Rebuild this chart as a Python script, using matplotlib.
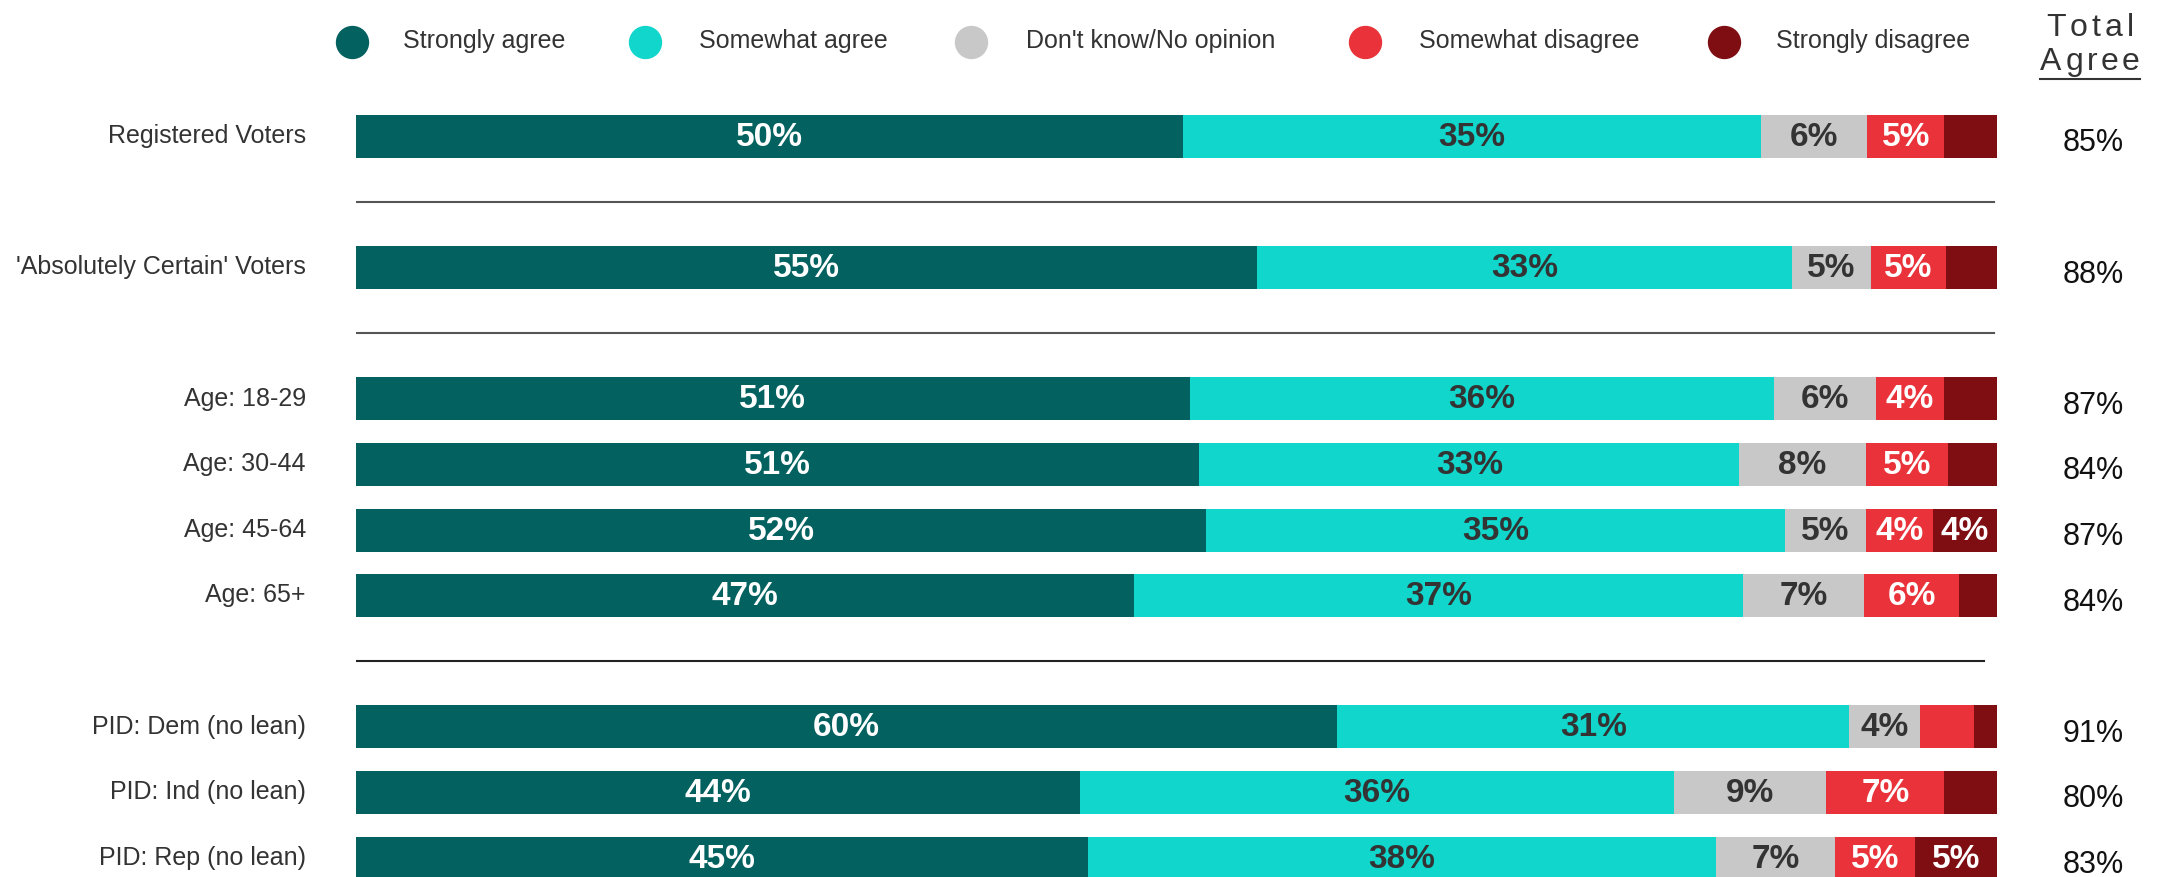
import numpy as np
import matplotlib
matplotlib.use('Agg')
import matplotlib.pyplot as plt

plt.rcParams['font.family'] = ['Liberation Sans', 'DejaVu Sans']

# data
groups = ['Registered Voters', "'Absolutely Certain' Voters", 'Age: 18-29', 'Age: 30-44',
          'Age: 45-64', 'Age: 65+', 'PID: Dem (no lean)', 'PID: Ind (no lean)', 'PID: Rep (no lean)']
answers = ['Strongly agree', 'Somewhat agree', "Don't know/No opinion", 'Somewhat disagree', 'Strongly disagree']
strongly_agree = [50.4, 54.9, 50.8, 51.4, 51.8, 47.4, 59.8, 44.1, 44.6]
somewhat_agree = [35.2, 32.6, 35.6, 32.9, 35.3, 37.1, 31.2, 36.2, 38.3]
dont_know = [6.5, 4.8, 6.2, 7.7, 4.9, 7.4, 4.3, 9.3, 7.2]
somewhat_disagree = [4.7, 4.6, 4.2, 5.0, 4.1, 5.8, 3.3, 7.2, 4.9]
strongly_disagree = [3.2, 3.1, 3.2, 3.0, 3.9, 2.3, 1.4, 3.2, 5.0]
total_agree = [85, 88, 87, 84, 87, 84, 91, 80, 83]

# layout (row slots, gaps between groups)
rows = [0, 2, 4, 5, 6, 7, 9, 10, 11]
separators = [(1, 99.8, '#555555'), (3, 99.8, '#555555'), (8, 99.2, '#222222')]

colours = ['#03615f', '#10d6cc', '#c8c8c8', '#e93239', '#7f0e12']
text_colours = ['white', '#333333', '#333333', 'white', 'white']

W, H = 2162, 878
fig = plt.figure(figsize=(W / 100, H / 100), dpi=100)
ax = fig.add_axes([356 / W, 0, 1641 / W, 1])
ax.set_xlim(0, 100)
ax.set_ylim(11.288, -2.096)

series = [strongly_agree, somewhat_agree, dont_know, somewhat_disagree, strongly_disagree]
left = np.zeros(len(groups))
for vals, col, tcol in zip(series, colours, text_colours):
    vals = np.array(vals)
    ax.barh(rows, vals, left=left, height=0.655, color=col, linewidth=0)
    for y, l, v in zip(rows, left, vals):
        if round(v) >= 4:
            ax.text(l + v / 2, y, f'{round(v)}%', ha='center', va='center',
                    fontsize=24, fontweight='bold', color=tcol)
    left += vals

# group separators
for y, x_end, c in separators:
    ax.plot([0, x_end], [y, y], color=c, linewidth=1.5)

# group labels and total agree column
for y, g, t in zip(rows, groups, total_agree):
    ax.text(-3.05, y - 0.02, g, ha='right', va='center', fontsize=18,
            color='#333333', clip_on=False)
    ax.text(105.85, y + 0.09, f'{t}%', ha='center', va='center', fontsize=22,
            color='#111111', clip_on=False)

ax.set_xticks([])
ax.set_yticks([])
for s in ax.spines.values():
    s.set_visible(False)

# legend
circle_x = [352, 645, 971, 1365, 1724]
label_x = [403, 699, 1026, 1419, 1776]
for cx, lx, col, lab in zip(circle_x, label_x, colours, answers):
    fig.add_artist(plt.Line2D([cx / W], [1 - 43 / H], marker='o', markersize=23,
                              color=col, linestyle='none', transform=fig.transFigure))
    fig.text(lx / W, 1 - 41 / H, lab, fontsize=18, color='#333333', va='center', ha='left')


# letter-spaced header "Total Agree"
def spaced_text(cx, base_y, s, size, tracking):
    renderer = fig.canvas.get_renderer()
    widths = []
    for ch in s:
        t = fig.text(0, 0, ch, fontsize=size)
        widths.append(t.get_window_extent(renderer).width)
        t.remove()
    total = sum(widths) + tracking * (len(s) - 1)
    x = cx - total / 2
    for ch, w in zip(s, widths):
        fig.text(x / W, 1 - base_y / H, ch, fontsize=size, color='#333333',
                 va='baseline', ha='left')
        x += w + tracking
    return cx - total / 2, cx + total / 2


spaced_text(2090, 36, 'Total', 23, 4)
x0, x1 = spaced_text(2090, 70, 'Agree', 23, 3.5)
fig.add_artist(plt.Line2D([x0 / W, x1 / W], [1 - 80 / H, 1 - 80 / H], color='#333333',
                          linewidth=1.5, transform=fig.transFigure))

plt.savefig('out.png', dpi=100)
